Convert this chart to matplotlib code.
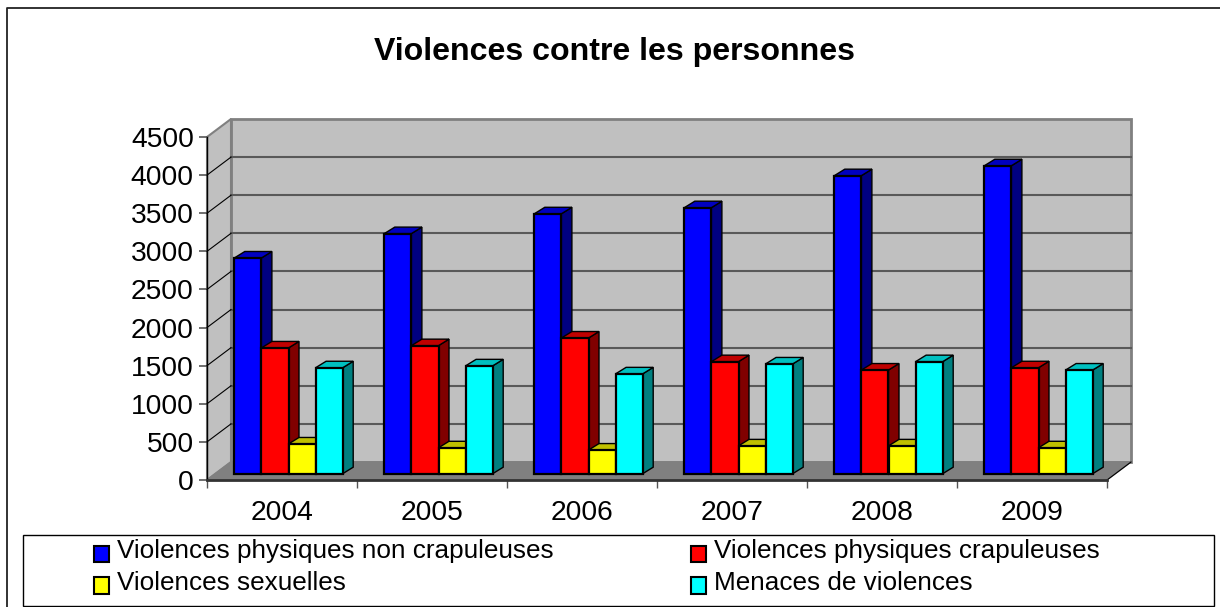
import matplotlib
matplotlib.use("Agg")
import matplotlib.pyplot as plt
from matplotlib.patches import Patch, Polygon, Rectangle

plt.rcParams['font.family'] = ['Liberation Sans', 'DejaVu Sans']

years = ["2004", "2005", "2006", "2007", "2008", "2009"]
physiques_non_crap = [2830, 3150, 3410, 3490, 3910, 4040]
physiques_crap = [1650, 1680, 1780, 1470, 1360, 1390]
sexuelles = [390, 340, 310, 365, 365, 340]
menaces = [1390, 1415, 1310, 1440, 1470, 1360]

series = [
    ("Violences physiques non crapuleuses", physiques_non_crap, "#0000ff", "#0000c0", "#000080"),
    ("Violences physiques crapuleuses", physiques_crap, "#ff0000", "#c00000", "#800000"),
    ("Violences sexuelles", sexuelles, "#ffff00", "#c0c000", "#808000"),
    ("Menaces de violences", menaces, "#00ffff", "#00c0c0", "#008080"),
]

W, H = 1220, 607
fig = plt.figure(figsize=(W / 100, H / 100), dpi=100)
fig.patch.set_facecolor("white")

# front plane of the fake 3d box, in pixels
left, right, top, bottom = 207, 1107, 137, 480
ax = fig.add_axes([left / W, 1 - bottom / H, (right - left) / W, (bottom - top) / H])
ax.set_xlim(0, 6)
ax.set_ylim(0, 4500)
ax.patch.set_alpha(0)

px = 6 / (right - left)
py = 4500 / (bottom - top)


def poly(pts, **kw):
    ax.add_patch(Polygon(pts, closed=True, clip_on=False, **kw))


# walls and floor
wx, wy = 24 * px, 18 * py
poly([(wx, wy), (6 + wx, wy), (6 + wx, 4500 + wy), (wx, 4500 + wy)], fc="#c0c0c0", ec="#808080", lw=2, zorder=1)
poly([(0, 0), (wx, wy), (wx, 4500 + wy), (0, 4500)], fc="#c0c0c0", ec="#808080", lw=1.5, zorder=1)
poly([(0, 0), (6, 0), (6 + wx, wy), (wx, wy)], fc="#808080", ec="#808080", lw=1, zorder=1.5)

for v in range(500, 4500, 500):
    ax.plot([wx, 6 + wx], [v + wy, v + wy], color="#595959", lw=1.5, zorder=2, clip_on=False)
    ax.plot([0, wx], [v, v + wy], color="black", lw=0.8, zorder=2, clip_on=False)
ax.plot([6, 6 + wx], [0, wy], color="black", lw=0.8, zorder=2, clip_on=False)

# bars
bw = 27.1 * px
gx = 27.3 * px
base = 6.3 * py
dx, dy = 10.5 * px, 6.5 * py
z = 3
for i in range(len(years)):
    for j, (name, vals, front, lid, side) in enumerate(series):
        x = i + gx + j * bw
        h = vals[i]
        t = base + h
        ax.bar(x, h, bw, bottom=base, align="edge", color=front, edgecolor="black", lw=1.6, zorder=z + 1, clip_on=False)
        poly([(x + bw, base), (x + bw + dx, base + dy), (x + bw + dx, t + dy), (x + bw, t)],
             fc=side, ec="black", lw=1, zorder=z)
        poly([(x, t), (x + bw, t), (x + bw + dx, t + dy), (x + dx, t + dy)],
             fc=lid, ec="black", lw=1, zorder=z)
        z += 2

# axes
for s in ("top", "right"):
    ax.spines[s].set_visible(False)
ax.spines["left"].set_linewidth(1)
ax.spines["bottom"].set_linewidth(2)
ax.spines["bottom"].set_color("#333333")
ax.spines["left"].set_zorder(100)
ax.spines["bottom"].set_zorder(100)
ax.set_yticks(range(0, 5000, 500))
ax.set_xticks(range(0, 7))
ax.set_xticklabels([])
ax.set_xticks([i + 0.5 for i in range(6)], labels=years, minor=True)
ax.tick_params(axis="y", labelsize=20.3, length=6, width=1.2, color="#555555", pad=3.5)
ax.tick_params(axis="x", which="major", length=6, width=1, color="#555555")
ax.tick_params(axis="x", which="minor", length=0, labelsize=20.3, pad=14.5)

fig.text(615 / W, 1 - 52 / H, "Violences contre les personnes", ha="center", va="center",
         fontsize=23.1, fontweight="bold")

# outer frame (no right edge in the source) and legend box
fig.add_artist(plt.Line2D([1, 7 / W, 7 / W], [1 - 8 / H, 1 - 8 / H, 0], transform=fig.transFigure, color="#222222", lw=1.3))
fig.add_artist(Rectangle((22.5 / W, 1 - 605.5 / H), 1191 / W, 71 / H, transform=fig.transFigure, fc="white", ec="black", lw=1, zorder=2))

handles = [Patch(fc=s[2], ec="black", lw=1.5) for s in series]
labels = [s[0] for s in series]
order = [0, 2, 1, 3]
leg = fig.legend([handles[k] for k in order], [labels[k] for k in order], ncol=2, frameon=False,
                 loc="center left", bbox_to_anchor=(94 / W, 1 - 567 / H), fontsize=18.8,
                 handlelength=0.58, handleheight=0.62, handletextpad=0.31, labelspacing=0.28,
                 columnspacing=5.25, borderpad=0, borderaxespad=0)
leg.set_zorder(3)
for h in leg.legend_handles:
    h.set_y(h.get_y() - 3.5)

fig.savefig("out.png", dpi=100)
